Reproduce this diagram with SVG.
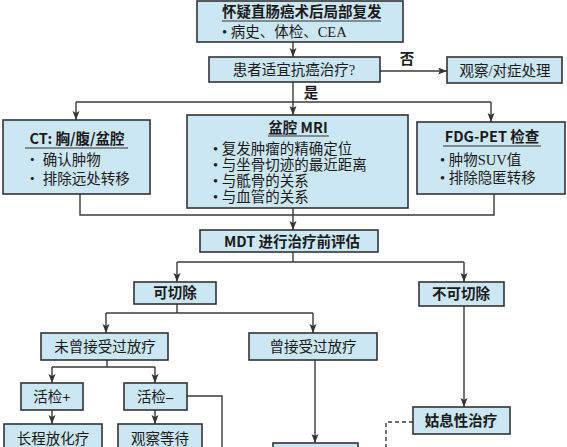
<svg xmlns="http://www.w3.org/2000/svg" width="567" height="447" viewBox="0 0 567 447">
<defs>
<marker id="arr" markerUnits="userSpaceOnUse" markerWidth="10" markerHeight="8" refX="9" refY="3.5" orient="auto">
<path d="M0,0 L9,3.5 L0,7 L2,3.5 z" fill="#333"/>
</marker>
<style>
.box{fill:#cce7f4;stroke:#333;stroke-width:1.6}
.ln{fill:none;stroke:#3a3a3a;stroke-width:1.4}
.ar{fill:none;stroke:#3a3a3a;stroke-width:1.4;marker-end:url(#arr)}
.ds{fill:none;stroke:#3a3a3a;stroke-width:1.4;stroke-dasharray:4 3}
.ul{stroke:#333;stroke-width:1.2}
text{font-size:14.5px;fill:#1a1a1a}
.b{font-family:"Noto Sans CJK SC","Liberation Sans",sans-serif;font-weight:bold}
.s{font-family:"Liberation Serif","Noto Sans CJK SC",serif}
.r{font-family:"Noto Sans CJK SC","Liberation Sans",sans-serif}
.m{text-anchor:middle}
</style>
</defs>
<rect width="567" height="447" fill="#ffffff"/>
<g id="connectors">
<line class="ar" x1="293" y1="42" x2="293" y2="57"/>
<line class="ar" x1="380" y1="71" x2="447" y2="71"/>
<line class="ar" x1="293" y1="82" x2="293" y2="115"/>
<line class="ln" x1="76" y1="102" x2="491" y2="102"/>
<line class="ar" x1="76" y1="102" x2="76" y2="120"/>
<line class="ar" x1="491" y1="102" x2="491" y2="122"/>
<polyline class="ln" points="80,194 80,215 494,215 494,194"/>
<line class="ar" x1="293" y1="208" x2="293" y2="230"/>
<line class="ln" x1="293" y1="252" x2="293" y2="262"/>
<line class="ln" x1="177" y1="262" x2="464" y2="262"/>
<line class="ar" x1="177" y1="262" x2="177" y2="282"/>
<line class="ar" x1="464" y1="262" x2="464" y2="282"/>
<line class="ln" x1="177" y1="304" x2="177" y2="313"/>
<line class="ln" x1="106" y1="313" x2="313" y2="313"/>
<line class="ar" x1="106" y1="313" x2="106" y2="333"/>
<line class="ar" x1="313" y1="313" x2="313" y2="333"/>
<line class="ln" x1="107" y1="360" x2="107" y2="367"/>
<line class="ln" x1="52" y1="367" x2="155" y2="367"/>
<line class="ar" x1="52" y1="367" x2="52" y2="383"/>
<line class="ar" x1="155" y1="367" x2="155" y2="383"/>
<polyline class="ln" points="187,396 222,396 222,448"/>
<line class="ar" x1="52" y1="410" x2="52" y2="424"/>
<line class="ar" x1="155" y1="410" x2="155" y2="424"/>
<line class="ar" x1="315" y1="360" x2="315" y2="443"/>
<line class="ar" x1="464" y1="306" x2="464" y2="407"/>
<polyline class="ds" points="413,422 386,422 386,448"/>
<text class="b m" x="407" y="64" font-size="14">否</text>
<text class="b m" x="311" y="98" font-size="14">是</text>
</g>
<g id="n-top">
<rect class="box" x="197" y="1" width="206" height="41"/>
<text class="b" x="222" y="17">怀疑直肠癌术后局部复发</text>
<line class="ul" x1="222" y1="21" x2="381" y2="21"/>
<text class="s" x="222" y="37">• 病史、体检、CEA</text>
</g>
<g id="n-q">
<rect class="box" x="209" y="57" width="171" height="25"/>
<text class="s m" x="294" y="75">患者适宜抗癌治疗?</text>
</g>
<g id="n-obs">
<rect class="box" x="447" y="57" width="115" height="26"/>
<text class="s m" x="505" y="76">观察/对症处理</text>
</g>
<g id="n-ct">
<rect class="box" x="3" y="120" width="147" height="74"/>
<text class="b m" x="77" y="144" font-size="15">CT: 胸/腹/盆腔</text>
<line class="ul" x1="25" y1="148" x2="128" y2="148"/>
<text class="r" x="25" y="165" font-size="14">• 确认肿物</text>
<text class="r" x="25" y="184" font-size="14">• 排除远处转移</text>
</g>
<g id="n-mri">
<rect class="box" x="187" y="115" width="221" height="93"/>
<text class="b m" x="298" y="133" font-size="15">盆腔 MRI</text>
<line class="ul" x1="268" y1="136" x2="329" y2="136"/>
<text class="s" x="213" y="154">• 复发肿瘤的精确定位</text>
<text class="s" x="213" y="170">• 与坐骨切迹的最近距离</text>
<text class="s" x="213" y="186">• 与骶骨的关系</text>
<text class="s" x="213" y="202">• 与血管的关系</text>
</g>
<g id="n-pet">
<rect class="box" x="417" y="122" width="148" height="72"/>
<text class="b m" x="492" y="142" font-size="15">FDG-PET 检查</text>
<line class="ul" x1="443" y1="146" x2="541" y2="146"/>
<text class="s" x="440" y="165">• 肿物SUV值</text>
<text class="s" x="440" y="183">• 排除隐匿转移</text>
</g>
<g id="n-mdt">
<rect class="box" x="200" y="230" width="178" height="22"/>
<text class="b m" x="292" y="247">MDT 进行治疗前评估</text>
</g>
<g id="n-res">
<rect class="box" x="134" y="282" width="82" height="22"/>
<text class="b m" x="175" y="298">可切除</text>
</g>
<g id="n-unres">
<rect class="box" x="419" y="282" width="85" height="24"/>
<text class="b m" x="461" y="299">不可切除</text>
</g>
<g id="n-norad">
<rect class="box" x="41" y="333" width="127" height="27"/>
<text class="s m" x="105" y="352">未曾接受过放疗</text>
</g>
<g id="n-rad">
<rect class="box" x="249" y="333" width="128" height="27"/>
<text class="s m" x="313" y="352">曾接受过放疗</text>
</g>
<g id="n-bpos">
<rect class="box" x="21" y="383" width="62" height="27"/>
<text class="s m" x="52" y="402">活检<tspan font-weight="bold">+</tspan></text>
</g>
<g id="n-bneg">
<rect class="box" x="124" y="383" width="63" height="27"/>
<text class="s m" x="155" y="402">活检<tspan font-weight="bold">–</tspan></text>
</g>
<g id="n-crt">
<rect class="box" x="4" y="424" width="98" height="30"/>
<text class="s m" x="53" y="444">长程放化疗</text>
</g>
<g id="n-wait">
<rect class="box" x="118" y="424" width="84" height="30"/>
<text class="s m" x="160" y="444">观察等待</text>
</g>
<g id="n-bottom">
<rect class="box" x="273" y="443" width="85" height="20"/>
</g>
<g id="n-pall">
<rect class="box" x="413" y="407" width="97" height="27"/>
<text class="b m" x="461" y="426">姑息性治疗</text>
</g>
</svg>
